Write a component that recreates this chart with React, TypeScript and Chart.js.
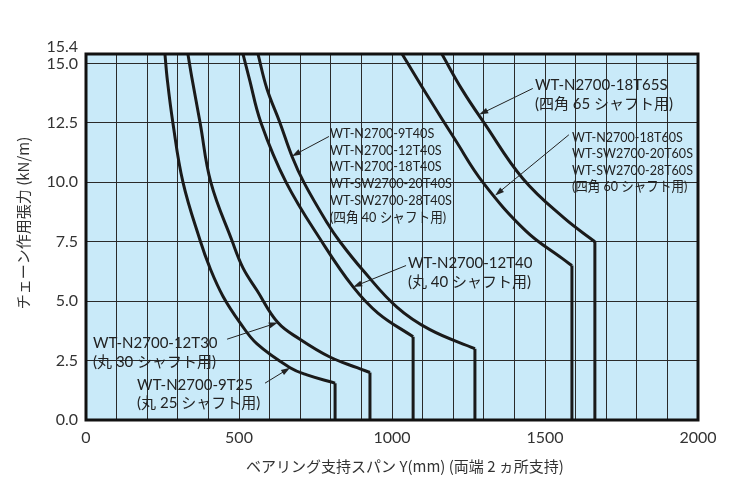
import { useEffect, useRef } from 'react'
import { Chart, registerables } from 'chart.js'

Chart.register(...registerables)

// bearing span Y (mm) against chain tension (kN/m), one pair per curve
const span9T25 = [258, 265, 284, 317, 373, 405, 448, 503, 559, 667, 722, 814]
const load9T25 = [15.4, 14.4, 12.5, 10.0, 7.55, 6.4, 5.2, 4.1, 3.2, 2.2, 1.9, 1.55]

const span12T30 = [333, 346, 373, 408, 477, 513, 559, 627, 699, 797, 886, 928]
const load12T30 = [15.4, 14.4, 12.5, 10.0, 7.55, 6.4, 5.45, 4.1, 3.4, 2.65, 2.2, 2.0]

const span12T40 = [513, 533, 572, 654, 771, 873, 954, 1069]
const load12T40 = [15.4, 14.4, 12.5, 10.0, 7.5, 5.6, 4.5, 3.5]

const span40S = [562, 591, 634, 673, 712, 788, 830, 905, 1016, 1124, 1271]
const load40S = [15.4, 13.95, 12.5, 11.1, 10.0, 8.3, 7.5, 6.3, 4.75, 3.8, 3.0]

const span60S = [1033, 1118, 1206, 1297, 1438, 1556, 1588]
const load60S = [15.4, 13.6, 11.8, 10.0, 7.95, 6.8, 6.5]

const span65S = [1163, 1229, 1301, 1428, 1562, 1663]
const load65S = [15.4, 13.9, 12.5, 10.15, 8.5, 7.5]

const yTicks = [0, 2.5, 5.0, 7.5, 10.0, 12.5, 15.0, 15.4]

const note65S = ['WT-N2700-18T65S', '(四角 65 シャフト用)']
const note60S = ['WT-N2700-18T60S', 'WT-SW2700-20T60S', 'WT-SW2700-28T60S', '(四角 60 シャフト用)']
const note40S = ['WT-N2700-9T40S', 'WT-N2700-12T40S', 'WT-N2700-18T40S', 'WT-SW2700-20T40S', 'WT-SW2700-28T40S', '(四角 40 シャフト用)']
const note12T40 = ['WT-N2700-12T40', '(丸 40 シャフト用)']
const note12T30 = ['WT-N2700-12T30', '(丸 30 シャフト用)']
const note9T25 = ['WT-N2700-9T25', '(丸 25 シャフト用)']

const yTitle = 'チェーン作用張力 (kN/m)'
const xTitle = 'ベアリング支持スパン Y(mm) (両端 2 ヵ所支持)'

const INK = '#222'
const LATIN = 'Lato, "Noto Sans CJK JP", sans-serif'
const CJK = '"Noto Sans CJK JP", sans-serif'

const curves = [
  { span: span9T25, load: load9T25 },
  { span: span12T30, load: load12T30 },
  { span: span12T40, load: load12T40 },
  { span: span40S, load: load40S },
  { span: span60S, load: load60S },
  { span: span65S, load: load65S },
]

// label placement (in axis units) + arrow from/to
const notes = [
  { lines: note65S, at: [1467, 14.1], from: [1460, 13.95], tip: [1285, 12.85], size: 15, gap: 19, fit: 143 },
  { lines: note60S, at: [1588, 11.9], from: [1578, 12.0], tip: [1337, 9.45], size: 14, gap: 16.6, fit: 121 },
  { lines: note40S, at: [797, 12.06], from: [794, 11.93], tip: [673, 11.1], size: 14, gap: 16.8, fit: 122 },
  { lines: note12T40, at: [1052, 6.6], from: [1046, 6.5], tip: [873, 5.6], size: 15, gap: 19, fit: 133 },
  { lines: note12T30, at: [23, 3.24], from: [461, 3.4], tip: [627, 4.1], size: 15, gap: 19, fit: 134 },
  { lines: note9T25, at: [167, 1.47], from: [585, 1.55], tip: [667, 2.2], size: 15, gap: 18, fit: 128 },
]

const chartDecor = {
  id: 'chartDecor',
  beforeDraw(chart: Chart) {
    const { ctx, chartArea: a } = chart
    ctx.save()
    ctx.fillStyle = '#c9eaf9'
    ctx.fillRect(a.left, a.top, a.right - a.left, a.bottom - a.top)
    ctx.restore()
  },
  afterDraw(chart: Chart) {
    const { ctx, chartArea: a, scales } = chart
    const sx = scales.x
    const sy = scales.y
    ctx.save()

    // frame
    ctx.strokeStyle = '#111'
    ctx.lineWidth = 3
    ctx.strokeRect(a.left, a.top, a.right - a.left, a.bottom - a.top)

    // top tick label, lifted off 15.0
    ctx.fillStyle = '#333'
    ctx.font = `16px ${LATIN}`
    ctx.textAlign = 'right'
    ctx.textBaseline = 'middle'
    ctx.fillText('15.4', a.left - 8, sy.getPixelForValue(15.4) - 7)

    // axis titles
    ctx.font = `15px ${CJK}`
    ctx.textAlign = 'center'
    ctx.save()
    ctx.translate(23, 223)
    ctx.rotate(-Math.PI / 2)
    ctx.fillText(yTitle, 0, 0)
    ctx.restore()
    ctx.fillText(xTitle, (a.left + a.right) / 2 + 13, 466)

    // callouts
    notes.forEach((n) => {
      const x0 = sx.getPixelForValue(n.at[0])
      const y0 = sy.getPixelForValue(n.at[1])
      ctx.font = `${n.size}px ${LATIN}`
      ctx.fillStyle = INK
      ctx.textAlign = 'left'
      ctx.textBaseline = 'middle'
      const widest = Math.max(...n.lines.map((l) => ctx.measureText(l).width))
      const k = Math.min(1, n.fit / widest)
      ctx.save()
      ctx.translate(x0, y0)
      ctx.scale(k, 1)
      n.lines.forEach((l, i) => ctx.fillText(l, 0, i * n.gap))
      ctx.restore()

      const fx = sx.getPixelForValue(n.from[0])
      const fy = sy.getPixelForValue(n.from[1])
      const tx = sx.getPixelForValue(n.tip[0])
      const ty = sy.getPixelForValue(n.tip[1])
      const ang = Math.atan2(ty - fy, tx - fx)
      ctx.strokeStyle = INK
      ctx.lineWidth = 1
      ctx.beginPath()
      ctx.moveTo(fx, fy)
      ctx.lineTo(tx - Math.cos(ang) * 6, ty - Math.sin(ang) * 6)
      ctx.stroke()
      ctx.beginPath()
      ctx.moveTo(tx, ty)
      ctx.lineTo(tx - Math.cos(ang) * 9 - Math.sin(ang) * 3, ty - Math.sin(ang) * 9 + Math.cos(ang) * 3)
      ctx.lineTo(tx - Math.cos(ang) * 9 + Math.sin(ang) * 3, ty - Math.sin(ang) * 9 - Math.cos(ang) * 3)
      ctx.closePath()
      ctx.fill()
    })
    ctx.restore()
  },
}

const App = () => {
  const canvasRef = useRef<HTMLCanvasElement>(null)

  useEffect(() => {
    document.body.style.margin = '0'
    if (!canvasRef.current) return

    const datasets = curves.flatMap((c) => {
      const n = c.span.length - 1
      const line = { borderColor: '#1a1a1a', borderWidth: 3, pointRadius: 0, fill: false }
      return [
        { ...line, data: c.span.map((x, i) => ({ x, y: c.load[i] })), tension: 0.4 },
        { ...line, data: [{ x: c.span[n], y: c.load[n] }, { x: c.span[n], y: 0 }], tension: 0 },
      ]
    })

    const chart = new Chart(canvasRef.current, {
      type: 'line',
      data: { datasets },
      options: {
        animation: false,
        responsive: true,
        maintainAspectRatio: false,
        layout: { padding: { top: 54, right: 35, left: 0, bottom: 0 } },
        plugins: { legend: { display: false }, tooltip: { enabled: false } },
        scales: {
          x: {
            type: 'linear',
            min: 0,
            max: 2000,
            afterFit: (s: any) => {
              s.height = 77
            },
            ticks: {
              stepSize: 100,
              autoSkip: false,
              maxRotation: 0,
              padding: 8,
              color: '#333',
              font: { family: LATIN, size: 16 },
              callback: (v: any) => (v % 500 === 0 ? String(v) : ''),
            },
            grid: { color: '#2a2a2a', lineWidth: 1, drawTicks: false },
            border: { display: false },
          },
          y: {
            min: 0,
            max: 15.4,
            afterFit: (s: any) => {
              s.width = 86
            },
            afterBuildTicks: (s: any) => {
              s.ticks = yTicks.map((value) => ({ value }))
            },
            ticks: {
              padding: 8,
              color: '#333',
              font: { family: LATIN, size: 16 },
              callback: (v: any) => (v === 15.4 ? '' : Number(v).toFixed(1)),
            },
            grid: { color: '#2a2a2a', lineWidth: 1, drawTicks: false },
            border: { display: false },
          },
        },
      },
      plugins: [chartDecor],
    })

    return () => chart.destroy()
  }, [])

  return (
    <div style={{ width: 733, height: 497, position: 'relative', background: '#fff' }}>
      <canvas ref={canvasRef} />
    </div>
  )
}

export default App
